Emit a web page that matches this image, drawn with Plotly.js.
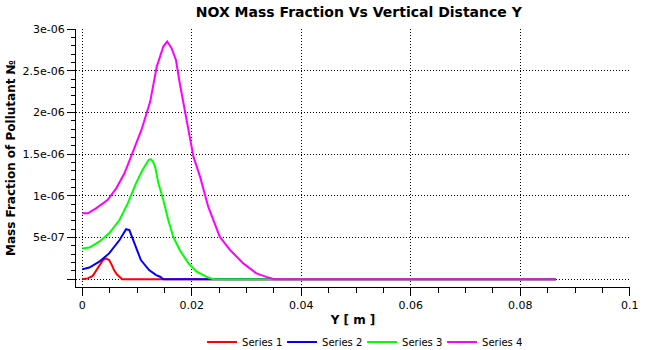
<!DOCTYPE html>
<html>
<head>
<meta charset="utf-8">
<script src="https://cdn.plot.ly/plotly-3.0.1.min.js"></script>
<style>html,body{margin:0;padding:0;background:#fff;}#chart{width:650px;height:350px;}</style>
</head>
<body>
<div id="chart"></div>
<script>
// Series 1 (red)
const s1X = [0, 0.0010, 0.0019, 0.0031, 0.0038, 0.0043, 0.0049, 0.0054, 0.0058, 0.0063, 0.0068, 0.0073, 0.0090, 0.0865];
const s1Y = [0, 0.01e-6, 0.04e-6, 0.17e-6, 0.23e-6, 0.25e-6, 0.23e-6, 0.17e-6, 0.11e-6, 0.06e-6, 0.03e-6, 0, 0, 0];
// Series 2 (blue)
const s2X = [0, 0.0013, 0.0031, 0.0049, 0.0068, 0.0076, 0.0080, 0.0086, 0.0095, 0.0107, 0.0122, 0.0135, 0.0142, 0.0148, 0.0865];
const s2Y = [0.12e-6, 0.14e-6, 0.21e-6, 0.31e-6, 0.47e-6, 0.56e-6, 0.60e-6, 0.59e-6, 0.43e-6, 0.23e-6, 0.11e-6, 0.05e-6, 0.03e-6, 0, 0];
// Series 3 (green)
const s3X = [0, 0.0013, 0.0031, 0.0049, 0.0068, 0.0083, 0.0098, 0.0110, 0.0121, 0.0125, 0.0129, 0.0133, 0.0139, 0.0148, 0.0157, 0.0166, 0.0178, 0.0194, 0.0209, 0.0230, 0.0240, 0.0865];
const s3Y = [0.37e-6, 0.38e-6, 0.45e-6, 0.55e-6, 0.71e-6, 0.91e-6, 1.15e-6, 1.31e-6, 1.43e-6, 1.44e-6, 1.41e-6, 1.35e-6, 1.15e-6, 0.95e-6, 0.71e-6, 0.51e-6, 0.35e-6, 0.19e-6, 0.09e-6, 0.02e-6, 0, 0];
// Series 4 (magenta)
const s4X = [0, 0.0010, 0.0025, 0.0046, 0.0062, 0.0077, 0.0089, 0.0108, 0.0124, 0.0136, 0.0148, 0.0155, 0.0163, 0.0171, 0.0178, 0.0184, 0.0191, 0.0197, 0.0203, 0.0215, 0.0230, 0.0251, 0.0270, 0.0294, 0.0318, 0.0340, 0.0350, 0.0865];
const s4Y = [0.79e-6, 0.79e-6, 0.85e-6, 0.95e-6, 1.09e-6, 1.27e-6, 1.47e-6, 1.79e-6, 2.13e-6, 2.55e-6, 2.79e-6, 2.85e-6, 2.77e-6, 2.63e-6, 2.35e-6, 2.13e-6, 1.87e-6, 1.67e-6, 1.47e-6, 1.23e-6, 0.87e-6, 0.51e-6, 0.35e-6, 0.19e-6, 0.07e-6, 0.02e-6, 0, 0];

const seriesNames = ['Series 1', 'Series 2', 'Series 3', 'Series 4'];
const seriesColors = ['#ff0000', '#0000ff', '#00ff00', '#ff00ff'];

const xTickVals = [0, 0.02, 0.04, 0.06, 0.08, 0.1];
const xTickText = ['0', '0.02', '0.04', '0.06', '0.08', '0.1'];
const yTickVals = [0, 0.5e-6, 1e-6, 1.5e-6, 2e-6, 2.5e-6, 3e-6];
const yTickText = ['', '5e-07', '1e-06', '1.5e-06', '2e-06', '2.5e-06', '3e-06'];

const FONT = 'DejaVu Sans, Verdana, sans-serif';
const xs = [s1X, s2X, s3X, s4X];
const ys = [s1Y, s2Y, s3Y, s4Y];
const traces = xs.map((x, i) => ({
  type: 'scatter', mode: 'lines', x: x, y: ys[i], name: seriesNames[i],
  line: {color: seriesColors[i], width: 2}
}));

const layout = {
  width: 650, height: 350,
  margin: {l: 76, r: 20, t: 29, b: 63},
  paper_bgcolor: '#fff', plot_bgcolor: '#fff',
  font: {family: FONT, size: 11, color: '#000'},
  title: {text: 'NOX Mass Fraction Vs Vertical Distance Y', font: {family: FONT, size: 14, weight: 700, color: '#000'},
          x: 0.552, xanchor: 'center', xref: 'container', y: 0.965, yanchor: 'middle', yref: 'container'},
  showlegend: true,
  legend: {orientation: 'h', xref: 'container', yref: 'container', x: 0.557, xanchor: 'center', y: 0.023, yanchor: 'middle',
           font: {family: FONT, size: 10, color: '#000'}, itemwidth: 30, entrywidth: 35, entrywidthmode: 'pixels',
           bgcolor: 'rgba(0,0,0,0)'},
  xaxis: {
    range: [-0.00115, 0.10003], tickmode: 'array', tickvals: xTickVals, ticktext: xTickText,
    showline: true, linecolor: '#000', linewidth: 1, ticks: 'outside', ticklen: 8, tickcolor: '#000', tickwidth: 1,
    showgrid: true, gridcolor: '#000', gridwidth: 1, griddash: '1px,2px', zeroline: false,
    minor: {dtick: 0.005, tick0: 0, ticks: 'outside', ticklen: 5, tickcolor: '#000', showgrid: false},
    tickfont: {family: FONT, size: 11, color: '#000'},
    title: {text: 'Y [ m ]', font: {family: FONT, size: 12, weight: 700, color: '#000'}, standoff: 8},
    automargin: false, fixedrange: true
  },
  yaxis: {
    range: [-0.093e-6, 3.0006e-6], tickmode: 'array', tickvals: yTickVals, ticktext: yTickText,
    showline: true, linecolor: '#000', linewidth: 1, ticks: 'outside', ticklen: 8, tickcolor: '#000', tickwidth: 1,
    showgrid: true, gridcolor: '#000', gridwidth: 1, griddash: '1px,2px', zeroline: false,
    minor: {dtick: 1e-7, tick0: 0, ticks: 'outside', ticklen: 4, tickcolor: '#000', showgrid: false},
    tickfont: {family: FONT, size: 11, color: '#000'},
    title: {text: 'Mass Fraction of Pollutant №', font: {family: FONT, size: 12, weight: 700, color: '#000'}, standoff: 4},
    automargin: false, fixedrange: true
  }
};

Plotly.newPlot('chart', traces, layout, {staticPlot: true, displayModeBar: false});
</script>
</body>
</html>
